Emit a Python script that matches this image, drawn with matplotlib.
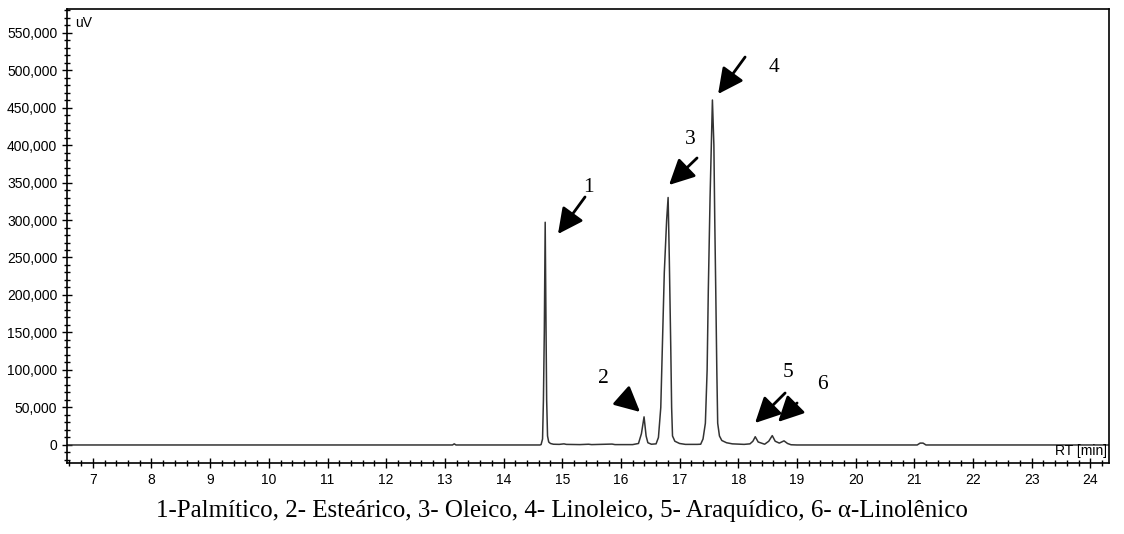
import matplotlib
matplotlib.use("Agg")
import matplotlib.pyplot as plt
from matplotlib.ticker import MultipleLocator, FuncFormatter

# chromatogram trace (RT in min, signal in uV)
rt = [6.56, 13.13, 13.16, 13.19, 14.62, 14.64, 14.665, 14.68, 14.695, 14.71,
      14.725, 14.735, 14.75, 14.77, 14.80, 14.85, 14.95, 15.03, 15.07, 15.30,
      15.45, 15.50, 15.85, 15.90, 16.20, 16.30, 16.35, 16.395, 16.43, 16.46,
      16.52, 16.60, 16.64, 16.68, 16.707, 16.74, 16.78, 16.805, 16.825, 16.85,
      16.865, 16.88, 16.92, 17.00, 17.10, 17.30, 17.36, 17.40, 17.44, 17.47,
      17.49, 17.52, 17.56, 17.585, 17.60, 17.617, 17.635, 17.65, 17.68, 17.72,
      17.80, 17.90, 18.10, 18.20, 18.25, 18.29, 18.34, 18.45, 18.52, 18.58,
      18.63, 18.70, 18.78, 18.84, 18.90, 19.00, 21.05, 21.10, 21.15, 21.20, 24.32]
signal = [0, 0, 1500, 0, 0, 500, 8000, 60000, 150000, 297000,
          150000, 60000, 12000, 4000, 2000, 1000, 800, 1500, 800, 500,
          1000, 500, 1200, 500, 500, 2000, 15000, 37500, 12000, 3000,
          1000, 1500, 10000, 50000, 131000, 230000, 300000, 330000, 250000, 131000,
          50000, 12000, 5000, 2000, 800, 800, 1000, 8000, 29000, 100000,
          206000, 330000, 460000, 400000, 300000, 206000, 100000, 29000, 12000, 6000,
          3000, 1500, 800, 1500, 5000, 11000, 4000, 1000, 5000, 12500,
          5000, 2500, 5500, 2000, 300, 0, 0, 2500, 2500, 0, 0]

# peak labels: text, label position, arrow tail, arrow head
peak_labels = ["1", "2", "3", "4", "5", "6"]
label_pos = [(15.44, 344000), (15.71, 89300), (17.18, 408000),
             (18.61, 502700), (18.85, 97300), (19.43, 80000)]
arrow_tail = [(15.389, 330700), (16.02, 65300), (17.298, 382700),
              (18.117, 517300), (18.799, 69300), (19.003, 56000)]
arrow_head = [(14.928, 281300), (16.327, 44000), (16.821, 346700),
              (17.657, 468000), (18.287, 29300), (18.679, 30700)]

caption = ("1-Palmítico, 2- Esteárico, 3- Oleico, 4- Linoleico, "
           "5- Araquídico, 6- α-Linolênico")

fig = plt.figure(figsize=(11.24, 5.34), dpi=100)
ax = fig.add_axes([0.0596, 0.133, 0.9271, 0.8501])

ax.plot(rt, signal, color="#333333", lw=1.1)

ax.set_xlim(6.56, 24.32)
ax.set_ylim(-24000, 581333)

ax.xaxis.set_major_locator(MultipleLocator(1))
ax.xaxis.set_minor_locator(MultipleLocator(0.2))
ax.yaxis.set_major_locator(MultipleLocator(50000))
ax.yaxis.set_minor_locator(MultipleLocator(10000))
ax.yaxis.set_major_formatter(FuncFormatter(lambda v, p: f"{v:,.0f}"))

tick_font = "Liberation Sans"
ax.tick_params(which="major", direction="inout", length=7, width=1,
               labelsize=10, color="black")
ax.tick_params(which="minor", direction="inout", length=4, width=1,
               color="black")
for lab in ax.get_xticklabels() + ax.get_yticklabels():
    lab.set_fontfamily(tick_font)
for sp in ax.spines.values():
    sp.set_linewidth(1.2)

ax.text(0.008, 0.985, "uV", transform=ax.transAxes, ha="left", va="top",
        fontsize=10, family=tick_font)
ax.text(0.998, 0.012, "RT [min]", transform=ax.transAxes, ha="right",
        va="bottom", fontsize=10, family=tick_font)

for lab, pos, tail, head in zip(peak_labels, label_pos, arrow_tail, arrow_head):
    ax.text(pos[0], pos[1], lab, ha="center", va="center", fontsize=15.5,
            family="Liberation Serif")
    ax.annotate("", xy=head, xytext=tail,
                arrowprops=dict(arrowstyle="-|>,head_length=0.7,head_width=0.35",
                                mutation_scale=22, lw=2, color="black",
                                shrinkA=0, shrinkB=0))

fig.text(0.5, 0.043, caption, ha="center", va="center", fontsize=18,
         family="Liberation Serif")

fig.savefig("out.png", dpi=100)
